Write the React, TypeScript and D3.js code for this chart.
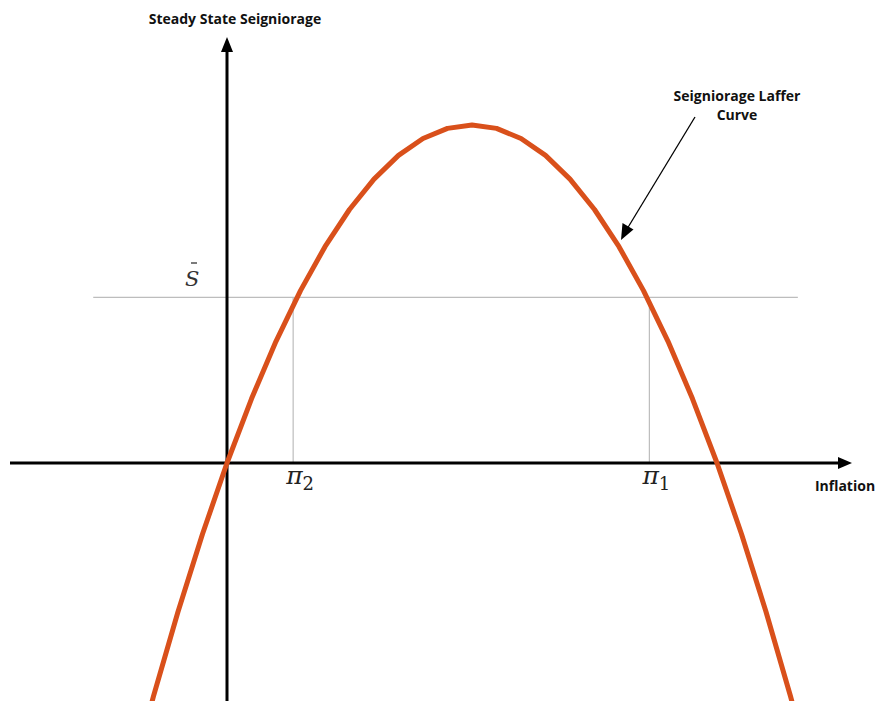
import React from "react";
import * as d3 from "d3";

// Inflation (x) values and steady-state seigniorage (y)
const inflation = [-0.2, -0.15, -0.1, -0.05, 0, 0.05, 0.1, 0.15, 0.2, 0.25, 0.3, 0.35, 0.4, 0.45, 0.5, 0.55, 0.6, 0.65, 0.7, 0.75, 0.8, 0.85, 0.9, 0.95, 1.0, 1.05, 1.1, 1.15, 1.2];
const seigniorage = [-0.96, -0.69, -0.44, -0.21, 0, 0.19, 0.36, 0.51, 0.64, 0.75, 0.84, 0.91, 0.96, 0.99, 1.0, 0.99, 0.96, 0.91, 0.84, 0.75, 0.64, 0.51, 0.36, 0.19, 0, -0.21, -0.44, -0.69, -0.96];

const sBar = 0.49;
const piMarks = [0.135, 0.862];
const piLabels = ["2", "1"];

const W = 879;
const H = 701;

const x = d3.scaleLinear().domain([0, 1]).range([227, 717]);
const y = d3.scaleLinear().domain([0, 1]).range([463, 125]);

export default function App() {
  const pts: [number, number][] = inflation.map((v, i) => [v, seigniorage[i]]);
  const line = d3
    .line<[number, number]>()
    .x((d) => x(d[0]))
    .y((d) => y(d[1]))
    .curve(d3.curveLinear);

  const x0 = x(0);
  const y0 = y(0);
  const ys = y(sBar);
  const font = "'Open Sans', Lato, sans-serif";

  return (
    <svg
      width={W}
      height={H}
      style={{ position: "absolute", left: 0, top: 0, background: "#fff" }}
    >
      <defs>
        <clipPath id="clip">
          <rect x={0} y={0} width={W} height={H} />
        </clipPath>
      </defs>
      {/* S-bar horizontal line */}
      <line x1={x(-0.273)} x2={x(1.165)} y1={ys} y2={ys} stroke="#bdbdbd" strokeWidth={1.2} />
      {/* vertical drops */}
      {piMarks.map((p, i) => (
        <line key={i} x1={x(p)} x2={x(p)} y1={ys} y2={y0} stroke="#bdbdbd" strokeWidth={1.2} />
      ))}
      {/* axes */}
      <line x1={10} x2={842} y1={y0} y2={y0} stroke="#000" strokeWidth={3} />
      <path d={`M${852},${y0} L${838},${y0 - 6} L${838},${y0 + 6} Z`} fill="#000" />
      <line x1={x0} x2={x0} y1={H} y2={48} stroke="#000" strokeWidth={3} />
      <path d={`M${x0},${37} L${x0 - 6},${52} L${x0 + 6},${52} Z`} fill="#000" />
      {/* Laffer curve */}
      <path
        d={line(pts) || ""}
        fill="none"
        stroke="#D9501B"
        strokeWidth={5}
        strokeLinejoin="round"
        clipPath="url(#clip)"
      />
      {/* annotation arrow */}
      <line x1={695} y1={117} x2={627} y2={229} stroke="#000" strokeWidth={1.3} />
      <path d={`M621,240 L622.5,223 L633.5,229.5 Z`} fill="#000" />
      {/* texts */}
      <text x={235} y={24} textAnchor="middle" fontFamily={font} fontWeight={700} fontSize={14} fill="#111">
        Steady State Seigniorage
      </text>
      <text x={737} y={101} textAnchor="middle" fontFamily={font} fontWeight={700} fontSize={14} fill="#111">
        Seigniorage Laffer
      </text>
      <text x={737} y={120} textAnchor="middle" fontFamily={font} fontWeight={700} fontSize={14} fill="#111">
        Curve
      </text>
      <text x={845} y={491} textAnchor="middle" fontFamily={font} fontWeight={700} fontSize={14} fill="#111">
        Inflation
      </text>
      <text x={185} y={286} fontFamily="'DejaVu Serif', serif" fontStyle="italic" fontSize={21} fill="#333">
        S
      </text>
      <line x1={191} x2={197} y1={263} y2={263} stroke="#333" strokeWidth={1.3} />
      {piMarks.map((p, i) => (
        <text key={i} x={x(p) - 7} y={484} fontFamily="'DejaVu Serif', serif" fontStyle="italic" fontSize={25} fill="#222">
          π
          <tspan dy={6} fontSize={18} fontStyle="normal">
            {piLabels[i]}
          </tspan>
        </text>
      ))}
    </svg>
  );
}
